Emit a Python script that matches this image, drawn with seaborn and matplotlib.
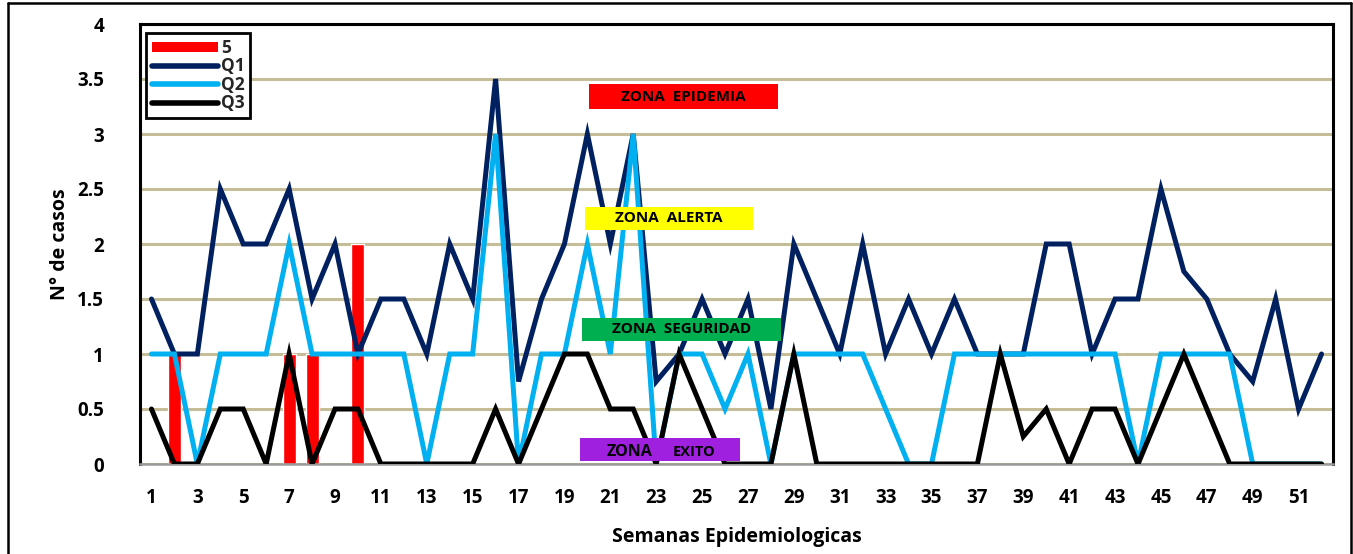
import matplotlib
matplotlib.use("Agg")
import matplotlib.pyplot as plt
from matplotlib.patches import Rectangle
from matplotlib.lines import Line2D
import seaborn as sns
import pandas as pd

# Epidemiological weeks
weeks = list(range(1, 53))

# Observed cases (bars) for the current year
case_weeks = [2, 7, 8, 10]
case_counts = [1, 1, 1, 2]

# Quartiles of the historical series
q1 = [1.5, 1, 1, 2.5, 2, 2, 2.5, 1.5, 2, 1,
      1.5, 1.5, 1, 2, 1.5, 3.5, 0.75, 1.5, 2, 3,
      2, 3, 0.75, 1, 1.5, 1, 1.5, 0.5, 2, 1.5,
      1, 2, 1, 1.5, 1, 1.5, 1, 1, 1, 2,
      2, 1, 1.5, 1.5, 2.5, 1.75, 1.5, 1, 0.75, 1.5,
      0.5, 1]
q2 = [1, 1, 0, 1, 1, 1, 2, 1, 1, 1,
      1, 1, 0, 1, 1, 3, 0, 1, 1, 2,
      1, 3, 0, 1, 1, 0.5, 1, 0, 1, 1,
      1, 1, 0.5, 0, 0, 1, 1, 1, 1, 1,
      1, 1, 1, 0, 1, 1, 1, 1, 0, 0,
      0, 0]
q3 = [0.5, 0, 0, 0.5, 0.5, 0, 1, 0, 0.5, 0.5,
      0, 0, 0, 0, 0, 0.5, 0, 0.5, 1, 1,
      0.5, 0.5, 0, 1, 0.5, 0, 0, 0, 1, 0,
      0, 0, 0, 0, 0, 0, 0, 1, 0.25, 0.5,
      0, 0.5, 0.5, 0, 0.5, 1, 0.5, 0, 0, 0,
      0, 0]

x_ticks = list(range(1, 53, 2))
y_ticks = [0, 0.5, 1, 1.5, 2, 2.5, 3, 3.5, 4]

zones = ["ZONA  EPIDEMIA", "ZONA  ALERTA", "ZONA  SEGURIDAD", "ZONA  EXITO"]
zone_colors = ["#FF0000", "#FFFF00", "#00B050", "#A020E0"]

sns.set_theme(style="white")
FONT = ["Open Sans", "DejaVu Sans"]
plt.rcParams["font.family"] = FONT
plt.rcParams["font.weight"] = "bold"
plt.rcParams["axes.labelweight"] = "bold"

W, H = 1353, 554
fig = plt.figure(figsize=(W / 100, H / 100), dpi=100)
ax = fig.add_axes([140 / W, 1 - 464 / H, (1333 - 140) / W, (464 - 24) / H])

cases = pd.DataFrame({"week": case_weeks, "cases": case_counts})
sns.barplot(data=cases, x="week", y="cases", native_scale=True, width=0.57,
            color="#FF0000", saturation=1, errorbar=None, ax=ax, zorder=2)

quart = pd.DataFrame({"week": weeks * 3,
                      "value": q1 + q2 + q3,
                      "serie": ["Q1"] * 52 + ["Q2"] * 52 + ["Q3"] * 52})
line_colors = {"Q1": "#002060", "Q2": "#00B0F0", "Q3": "#000000"}
sns.lineplot(data=quart, x="week", y="value", hue="serie", palette=line_colors,
             linewidth=3.6, ax=ax, legend=False, zorder=3)
for ln in ax.lines:
    ln.set_solid_joinstyle("miter")
    ln.set_solid_capstyle("round")

ax.set_xlim(0.5, 52.5)
ax.set_ylim(0, 4)
ax.set_xticks(x_ticks)
ax.set_xticklabels([str(t) for t in x_ticks], fontsize=13.5, fontweight="bold")
ax.set_yticks(y_ticks)
ax.set_yticklabels([f"{t:g}" for t in y_ticks], fontsize=13.5, fontweight="bold")
ax.tick_params(axis="x", pad=17, length=0, colors="black")
ax.tick_params(axis="y", pad=26, length=0, colors="black")
ax.yaxis.grid(True, color="#C4BD97", linewidth=2.2, zorder=0)
ax.set_axisbelow(True)
ax.set_xlabel("Semanas Epidemiologicas", fontsize=14, fontweight="bold",
              labelpad=14, color="black")
ax.set_ylabel("N° de casos", fontsize=14, fontweight="bold", labelpad=5,
              color="black")
for side in ["left", "top", "right"]:
    ax.spines[side].set_color("black")
    ax.spines[side].set_linewidth(2.2)
ax.spines["bottom"].set_color("#9A9A9A")
ax.spines["bottom"].set_linewidth(1.8)

# zone labels
zone_boxes = [(20.05, 3.23, 8.25, 0.22), (19.9, 2.13, 7.3, 0.21),
              (19.75, 1.12, 8.7, 0.21), (19.7, 0.03, 6.95, 0.21)]
for (x0, y0, w, h), name, col in zip(zone_boxes, zones, zone_colors):
    ax.add_patch(Rectangle((x0, y0), w, h, facecolor=col, edgecolor="none", zorder=5))
    if name.endswith("EXITO"):
        ax.text(20.85, y0 + 0.045, "ZONA", fontsize=11.5, fontweight="bold",
                ha="left", va="baseline", color="black", zorder=6)
        ax.text(23.7, y0 + 0.045, "EXITO", fontsize=10.5, fontweight="bold",
                ha="left", va="baseline", color="black", zorder=6)
    else:
        ax.text(x0 + w / 2, y0 + h / 2, name, fontsize=11, fontweight="bold",
                ha="center", va="center", color="black", zorder=6)

handles = [Rectangle((0, 0), 1, 1, facecolor="#FF0000", edgecolor="none"),
           Line2D([0], [0], color="#002060", lw=4, solid_capstyle="round"),
           Line2D([0], [0], color="#00B0F0", lw=4, solid_capstyle="round"),
           Line2D([0], [0], color="#000000", lw=4, solid_capstyle="round")]
leg = ax.legend(handles, ["5", "Q1", "Q2", "Q3"], loc="upper left",
                bbox_to_anchor=(6 / 1193, 1 - 9 / 440),
                prop={"family": FONT, "weight": "bold", "size": 12.5},
                frameon=True, fancybox=False, framealpha=1, edgecolor="black",
                handlelength=3.8, handleheight=0.5, labelspacing=0.02,
                handletextpad=0.15, borderpad=0.35, borderaxespad=0)
leg.get_frame().set_linewidth(2)
leg.set_zorder(10)

# outer chart frame
fig.add_artist(Line2D([8 / W, 8 / W], [0, 1 - 3 / H], transform=fig.transFigure, color="black", lw=1.8))
fig.add_artist(Line2D([8 / W, 1351 / W], [1 - 3 / H, 1 - 3 / H], transform=fig.transFigure, color="black", lw=1.8))
fig.add_artist(Line2D([1351 / W, 1351 / W], [0, 1 - 3 / H], transform=fig.transFigure, color="black", lw=1.8))

fig.savefig("out.png", dpi=100, facecolor="white")
